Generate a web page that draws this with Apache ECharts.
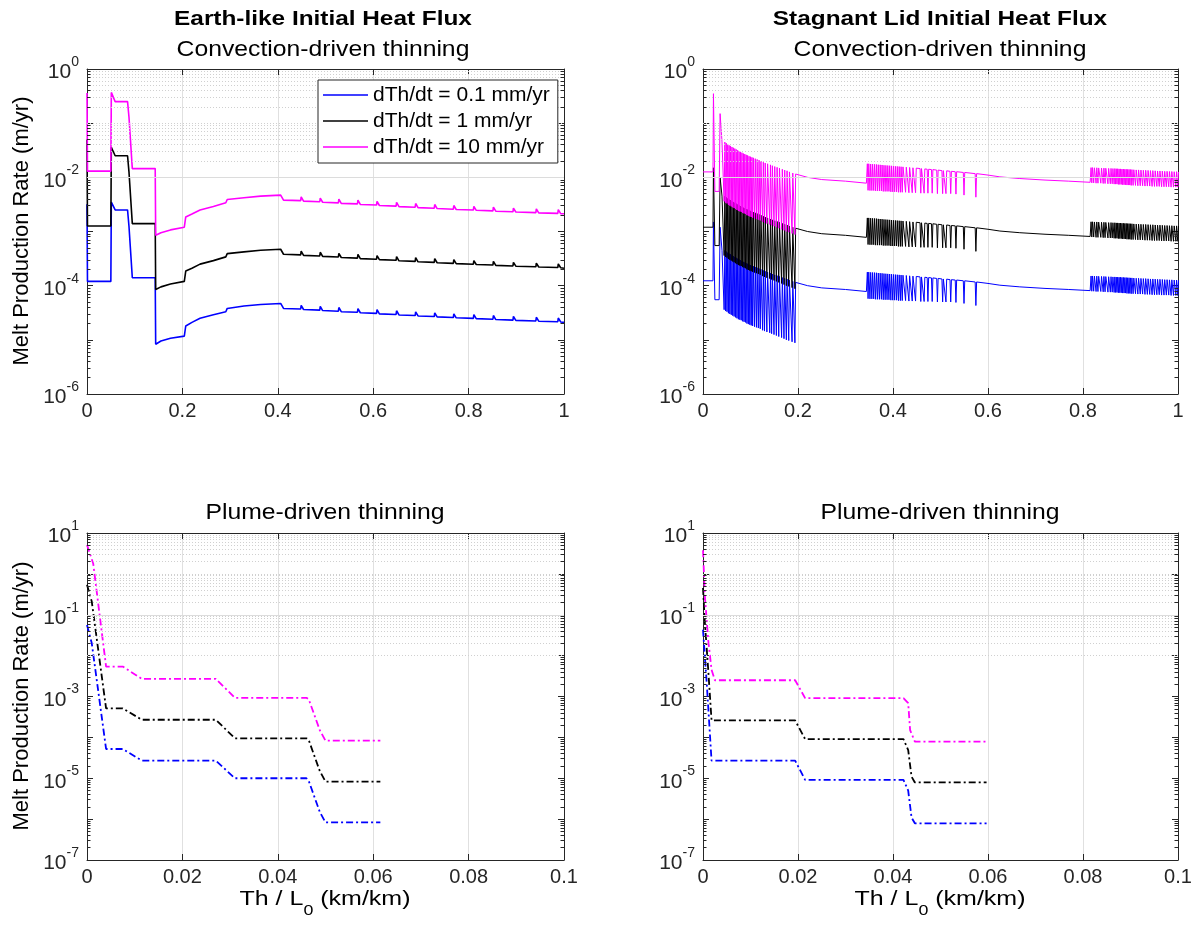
<!DOCTYPE html>
<html>
<head>
<meta charset="utf-8">
<script src="https://cdn.jsdelivr.net/npm/echarts@6/dist/echarts.min.js"></script>
<style>
  html, body { margin: 0; padding: 0; background: #fff; }
  #chart { width: 1199px; height: 931px; }
</style>
</head>
<body>
<div id="chart"></div>
<script>
// ---------- data ----------
const seriesNames = ['dTh/dt = 0.1 mm/yr', 'dTh/dt = 1 mm/yr', 'dTh/dt = 10 mm/yr'];
const seriesColors = ['#0000ff', '#000000', '#ff00ff'];

const topXTicks = [0, 0.2, 0.4, 0.6, 0.8, 1];
const bottomXTicks = [0, 0.02, 0.04, 0.06, 0.08, 0.1];
const topDecades = [-6, -5, -4, -3, -2, -1, 0];
const bottomDecades = [-7, -6, -5, -4, -3, -2, -1, 0, 1];
const topYLabelExp = [-6, -4, -2, 0];
const bottomYLabelExp = [-7, -5, -3, -1, 1];
const minorSteps = [2, 3, 4, 5, 6, 7, 8, 9];

// top-left: Earth-like, convection-driven
const tlMagHead = [[0, 0.36], [0.001, 1.3e-2], [0.05, 1.3e-2], [0.051, 0.37], [0.055, 0.36], [0.059, 0.25], [0.085, 0.25], [0.088, 0.13], [0.092, 0.13], [0.095, 1.45e-2], [0.143, 1.45e-2], [0.144, 8.5e-4], [0.155, 9.5e-4], [0.175, 1.07e-3], [0.204, 1.2e-3], [0.207, 1.86e-3], [0.22, 2.1e-3], [0.237, 2.5e-3], [0.265, 2.9e-3], [0.291, 3.4e-3], [0.294, 3.9e-3], [0.329, 4.2e-3], [0.364, 4.5e-3]];
const tlBlkHead = [[0, 5.0e-2], [0.001, 1.26e-3], [0.05, 1.26e-3], [0.051, 3.6e-2], [0.055, 3.5e-2], [0.059, 2.5e-2], [0.085, 2.5e-2], [0.088, 1.26e-2], [0.092, 1.26e-2], [0.095, 1.4e-3], [0.143, 1.4e-3], [0.144, 8.5e-5], [0.155, 9.5e-5], [0.175, 1.07e-4], [0.204, 1.2e-4], [0.207, 1.86e-4], [0.22, 2.1e-4], [0.237, 2.5e-4], [0.265, 2.9e-4], [0.291, 3.4e-4], [0.294, 3.9e-4], [0.329, 4.2e-4], [0.364, 4.5e-4]];
const tlBluHead = [[0, 3.2e-3], [0.001, 1.2e-4], [0.05, 1.2e-4], [0.051, 3.5e-3], [0.055, 3.4e-3], [0.059, 2.5e-3], [0.085, 2.5e-3], [0.088, 1.25e-3], [0.092, 1.25e-3], [0.095, 1.4e-4], [0.143, 1.4e-4], [0.144, 8.3e-6], [0.155, 9.5e-6], [0.175, 1.07e-5], [0.204, 1.17e-5], [0.207, 1.8e-5], [0.22, 2.1e-5], [0.237, 2.5e-5], [0.265, 2.9e-5], [0.291, 3.3e-5], [0.294, 3.8e-5], [0.329, 4.2e-5], [0.364, 4.5e-5]];
const tlToothX = [0.407, 0.449, 0.489, 0.528, 0.568, 0.608, 0.649, 0.689, 0.729, 0.769, 0.811, 0.852, 0.894, 0.942, 0.988];
const tlMagPre = [4.7e-3, 3.71e-3, 3.54e-3, 3.38e-3, 3.23e-3, 3.08e-3, 2.94e-3, 2.81e-3, 2.69e-3, 2.58e-3, 2.49e-3, 2.40e-3, 2.31e-3, 2.23e-3, 2.16e-3];
const tlMagPeak = [5.1e-3, 4.34e-3, 4.14e-3, 3.95e-3, 3.78e-3, 3.60e-3, 3.44e-3, 3.29e-3, 3.15e-3, 3.02e-3, 2.91e-3, 2.81e-3, 2.70e-3, 2.61e-3, 2.53e-3];
const tlMagAfter = [3.80e-3, 3.63e-3, 3.47e-3, 3.31e-3, 3.16e-3, 3.02e-3, 2.88e-3, 2.76e-3, 2.65e-3, 2.55e-3, 2.46e-3, 2.37e-3, 2.29e-3, 2.21e-3, 2.14e-3];
const tlBlkPre = [4.7e-4, 3.71e-4, 3.54e-4, 3.38e-4, 3.23e-4, 3.08e-4, 2.94e-4, 2.81e-4, 2.69e-4, 2.58e-4, 2.49e-4, 2.40e-4, 2.31e-4, 2.23e-4, 2.16e-4];
const tlBlkPeak = [5.1e-4, 4.34e-4, 4.14e-4, 3.95e-4, 3.78e-4, 3.60e-4, 3.44e-4, 3.29e-4, 3.15e-4, 3.02e-4, 2.91e-4, 2.81e-4, 2.70e-4, 2.61e-4, 2.53e-4];
const tlBlkAfter = [3.80e-4, 3.63e-4, 3.47e-4, 3.31e-4, 3.16e-4, 3.02e-4, 2.88e-4, 2.76e-4, 2.65e-4, 2.55e-4, 2.46e-4, 2.37e-4, 2.29e-4, 2.21e-4, 2.14e-4];
const tlBluPre = [4.7e-5, 3.71e-5, 3.54e-5, 3.38e-5, 3.23e-5, 3.08e-5, 2.94e-5, 2.81e-5, 2.69e-5, 2.58e-5, 2.49e-5, 2.40e-5, 2.31e-5, 2.23e-5, 2.16e-5];
const tlBluPeak = [5.1e-5, 4.34e-5, 4.14e-5, 3.95e-5, 3.78e-5, 3.60e-5, 3.44e-5, 3.29e-5, 3.15e-5, 3.02e-5, 2.91e-5, 2.81e-5, 2.70e-5, 2.61e-5, 2.53e-5];
const tlBluAfter = [3.80e-5, 3.63e-5, 3.47e-5, 3.31e-5, 3.16e-5, 3.02e-5, 2.88e-5, 2.76e-5, 2.65e-5, 2.55e-5, 2.46e-5, 2.37e-5, 2.29e-5, 2.21e-5, 2.14e-5];
const tlEnd = [2.1e-5, 2.1e-4, 2.12e-3];

// top-right: stagnant lid, convection-driven
const trMagStart = [[0, 1.26e-2], [0.021, 1.26e-2], [0.022, 0.35], [0.025, 5.5e-3], [0.034, 5.5e-3], [0.036, 0.15], [0.04, 4.5e-2]];
const trBlkStart = [[0, 1.2e-3], [0.021, 1.2e-3], [0.022, 1.5e-2], [0.025, 5.5e-4], [0.034, 5.5e-4], [0.036, 1.0e-2], [0.04, 4.5e-3]];
const trBluStart = [[0, 1.23e-4], [0.021, 1.23e-4], [0.022, 1.5e-3], [0.025, 5.5e-5], [0.034, 5.5e-5], [0.036, 1.2e-3], [0.04, 4.5e-4]];

const trX1 = [0.043, 0.046, 0.049, 0.052, 0.055, 0.058, 0.061, 0.064, 0.067, 0.070, 0.073, 0.076, 0.079, 0.082, 0.085, 0.088, 0.091, 0.094, 0.097, 0.100, 0.103, 0.107, 0.111, 0.115, 0.119, 0.124, 0.128, 0.133, 0.139, 0.143, 0.148, 0.153, 0.158, 0.164, 0.169, 0.174, 0.179, 0.186, 0.192];
const trMagTop1 = [4.47e-2, 4.27e-2, 4.07e-2, 3.89e-2, 3.80e-2, 3.63e-2, 3.51e-2, 3.39e-2, 3.27e-2, 3.16e-2, 3.05e-2, 2.95e-2, 2.85e-2, 2.75e-2, 2.69e-2, 2.60e-2, 2.54e-2, 2.45e-2, 2.40e-2, 2.34e-2, 2.29e-2, 2.21e-2, 2.14e-2, 2.07e-2, 2.00e-2, 1.91e-2, 1.84e-2, 1.78e-2, 1.70e-2, 1.64e-2, 1.58e-2, 1.53e-2, 1.48e-2, 1.41e-2, 1.36e-2, 1.32e-2, 1.26e-2, 1.20e-2, 1.15e-2];
const trMagBot1 = [3.6e-3, 3.4e-3, 3.3e-3, 3.1e-3, 3.0e-3, 2.9e-3, 2.8e-3, 2.7e-3, 2.6e-3, 2.5e-3, 2.4e-3, 2.35e-3, 2.3e-3, 2.2e-3, 2.15e-3, 2.1e-3, 2.0e-3, 1.95e-3, 1.9e-3, 1.85e-3, 1.8e-3, 1.75e-3, 1.7e-3, 1.65e-3, 1.6e-3, 1.5e-3, 1.45e-3, 1.4e-3, 1.35e-3, 1.3e-3, 1.25e-3, 1.2e-3, 1.15e-3, 1.1e-3, 1.05e-3, 1.0e-3, 9.7e-4, 9.2e-4, 8.8e-4];
const trBlkTop1 = [4.47e-3, 4.27e-3, 4.07e-3, 3.89e-3, 3.80e-3, 3.63e-3, 3.51e-3, 3.39e-3, 3.27e-3, 3.16e-3, 3.05e-3, 2.95e-3, 2.85e-3, 2.75e-3, 2.69e-3, 2.60e-3, 2.54e-3, 2.45e-3, 2.40e-3, 2.34e-3, 2.29e-3, 2.21e-3, 2.14e-3, 2.07e-3, 2.00e-3, 1.91e-3, 1.84e-3, 1.78e-3, 1.70e-3, 1.64e-3, 1.58e-3, 1.53e-3, 1.48e-3, 1.41e-3, 1.36e-3, 1.32e-3, 1.26e-3, 1.20e-3, 1.15e-3];
const trBlkBot1 = [3.6e-4, 3.4e-4, 3.3e-4, 3.1e-4, 3.0e-4, 2.9e-4, 2.8e-4, 2.7e-4, 2.6e-4, 2.5e-4, 2.4e-4, 2.35e-4, 2.3e-4, 2.2e-4, 2.15e-4, 2.1e-4, 2.0e-4, 1.95e-4, 1.9e-4, 1.85e-4, 1.8e-4, 1.75e-4, 1.7e-4, 1.65e-4, 1.6e-4, 1.5e-4, 1.45e-4, 1.4e-4, 1.35e-4, 1.3e-4, 1.25e-4, 1.2e-4, 1.15e-4, 1.1e-4, 1.05e-4, 1.0e-4, 9.7e-5, 9.2e-5, 8.8e-5];
const trBluTop1 = [4.47e-4, 4.27e-4, 4.07e-4, 3.89e-4, 3.80e-4, 3.63e-4, 3.51e-4, 3.39e-4, 3.27e-4, 3.16e-4, 3.05e-4, 2.95e-4, 2.85e-4, 2.75e-4, 2.69e-4, 2.60e-4, 2.54e-4, 2.45e-4, 2.40e-4, 2.34e-4, 2.29e-4, 2.21e-4, 2.14e-4, 2.07e-4, 2.00e-4, 1.91e-4, 1.84e-4, 1.78e-4, 1.70e-4, 1.64e-4, 1.58e-4, 1.53e-4, 1.48e-4, 1.41e-4, 1.36e-4, 1.32e-4, 1.26e-4, 1.20e-4, 1.15e-4];
const trBluBot1 = [3.6e-5, 3.4e-5, 3.3e-5, 3.1e-5, 3.0e-5, 2.9e-5, 2.8e-5, 2.7e-5, 2.6e-5, 2.5e-5, 2.4e-5, 2.35e-5, 2.3e-5, 2.2e-5, 2.15e-5, 2.1e-5, 2.0e-5, 1.95e-5, 1.9e-5, 1.85e-5, 1.8e-5, 1.75e-5, 1.7e-5, 1.65e-5, 1.6e-5, 1.5e-5, 1.45e-5, 1.4e-5, 1.35e-5, 1.3e-5, 1.25e-5, 1.2e-5, 1.15e-5, 1.1e-5, 1.05e-5, 1.0e-5, 9.7e-6, 9.2e-6, 8.8e-6];

const trMagMid1 = [[0.195, 1.1e-2], [0.22, 1.0e-2], [0.25, 9.1e-3], [0.3, 8.5e-3], [0.344, 7.8e-3]];
const trBlkMid1 = [[0.195, 1.1e-3], [0.22, 1.0e-3], [0.25, 9.1e-4], [0.3, 8.5e-4], [0.344, 7.8e-4]];
const trBluMid1 = [[0.195, 1.1e-4], [0.22, 1.0e-4], [0.25, 9.1e-5], [0.3, 8.5e-5], [0.344, 7.8e-5]];

const trX2 = [0.346, 0.350, 0.354, 0.358, 0.362, 0.366, 0.370, 0.374, 0.378, 0.382, 0.386, 0.390, 0.394, 0.398, 0.402, 0.406, 0.410, 0.414, 0.418, 0.425, 0.432, 0.439, 0.446, 0.457, 0.464, 0.472, 0.481, 0.492, 0.503, 0.510, 0.520, 0.531, 0.548, 0.573];
const trMagTop2 = [1.78e-2, 1.76e-2, 1.75e-2, 1.74e-2, 1.73e-2, 1.71e-2, 1.70e-2, 1.69e-2, 1.67e-2, 1.66e-2, 1.65e-2, 1.64e-2, 1.63e-2, 1.61e-2, 1.60e-2, 1.59e-2, 1.58e-2, 1.57e-2, 1.56e-2, 1.54e-2, 1.52e-2, 1.50e-2, 1.48e-2, 1.45e-2, 1.43e-2, 1.41e-2, 1.39e-2, 1.36e-2, 1.33e-2, 1.32e-2, 1.29e-2, 1.27e-2, 1.23e-2, 1.17e-2];
const trMagBot2 = [5.75e-3, 5.7e-3, 5.7e-3, 5.7e-3, 5.6e-3, 5.6e-3, 5.6e-3, 5.6e-3, 5.5e-3, 5.5e-3, 5.5e-3, 5.5e-3, 5.4e-3, 5.4e-3, 5.4e-3, 5.4e-3, 5.3e-3, 5.3e-3, 5.3e-3, 5.3e-3, 5.2e-3, 5.2e-3, 5.2e-3, 5.1e-3, 5.1e-3, 5.1e-3, 5.1e-3, 5.0e-3, 5.0e-3, 5.0e-3, 5.0e-3, 4.9e-3, 4.7e-3, 4.3e-3];
const trBlkTop2 = [1.78e-3, 1.76e-3, 1.75e-3, 1.74e-3, 1.73e-3, 1.71e-3, 1.70e-3, 1.69e-3, 1.67e-3, 1.66e-3, 1.65e-3, 1.64e-3, 1.63e-3, 1.61e-3, 1.60e-3, 1.59e-3, 1.58e-3, 1.57e-3, 1.56e-3, 1.54e-3, 1.52e-3, 1.50e-3, 1.48e-3, 1.45e-3, 1.43e-3, 1.41e-3, 1.39e-3, 1.36e-3, 1.33e-3, 1.32e-3, 1.29e-3, 1.27e-3, 1.23e-3, 1.17e-3];
const trBlkBot2 = [5.75e-4, 5.7e-4, 5.7e-4, 5.7e-4, 5.6e-4, 5.6e-4, 5.6e-4, 5.6e-4, 5.5e-4, 5.5e-4, 5.5e-4, 5.5e-4, 5.4e-4, 5.4e-4, 5.4e-4, 5.4e-4, 5.3e-4, 5.3e-4, 5.3e-4, 5.3e-4, 5.2e-4, 5.2e-4, 5.2e-4, 5.1e-4, 5.1e-4, 5.1e-4, 5.1e-4, 5.0e-4, 5.0e-4, 5.0e-4, 5.0e-4, 4.9e-4, 4.7e-4, 4.3e-4];
const trBluTop2 = [1.78e-4, 1.76e-4, 1.75e-4, 1.74e-4, 1.73e-4, 1.71e-4, 1.70e-4, 1.69e-4, 1.67e-4, 1.66e-4, 1.65e-4, 1.64e-4, 1.63e-4, 1.61e-4, 1.60e-4, 1.59e-4, 1.58e-4, 1.57e-4, 1.56e-4, 1.54e-4, 1.52e-4, 1.50e-4, 1.48e-4, 1.45e-4, 1.43e-4, 1.41e-4, 1.39e-4, 1.36e-4, 1.33e-4, 1.32e-4, 1.29e-4, 1.27e-4, 1.23e-4, 1.17e-4];
const trBluBot2 = [5.75e-5, 5.7e-5, 5.7e-5, 5.7e-5, 5.6e-5, 5.6e-5, 5.6e-5, 5.6e-5, 5.5e-5, 5.5e-5, 5.5e-5, 5.5e-5, 5.4e-5, 5.4e-5, 5.4e-5, 5.4e-5, 5.3e-5, 5.3e-5, 5.3e-5, 5.3e-5, 5.2e-5, 5.2e-5, 5.2e-5, 5.1e-5, 5.1e-5, 5.1e-5, 5.1e-5, 5.0e-5, 5.0e-5, 5.0e-5, 5.0e-5, 4.9e-5, 4.7e-5, 4.3e-5];

const trMagMid2 = [[0.575, 1.17e-2], [0.6, 1.1e-2], [0.625, 1.02e-2], [0.667, 9.5e-3], [0.72, 8.9e-3], [0.77, 8.5e-3], [0.815, 8.1e-3]];
const trBlkMid2 = [[0.575, 1.17e-3], [0.6, 1.1e-3], [0.625, 1.02e-3], [0.667, 9.5e-4], [0.72, 8.9e-4], [0.77, 8.5e-4], [0.815, 8.1e-4]];
const trBluMid2 = [[0.575, 1.17e-4], [0.6, 1.1e-4], [0.625, 1.02e-4], [0.667, 9.5e-5], [0.72, 8.9e-5], [0.77, 8.5e-5], [0.815, 8.1e-5]];

const trX3 = [0.817, 0.821, 0.826, 0.830, 0.836, 0.841, 0.845, 0.851, 0.856, 0.860, 0.864, 0.867, 0.870, 0.873, 0.876, 0.879, 0.882, 0.885, 0.888, 0.891, 0.894, 0.897, 0.900, 0.904, 0.909, 0.914, 0.919, 0.924, 0.929, 0.934, 0.939, 0.944, 0.949, 0.954, 0.959, 0.964, 0.969, 0.974, 0.979, 0.984, 0.989, 0.994, 0.998];
const trMagTop3 = [1.51e-2, 1.50e-2, 1.50e-2, 1.49e-2, 1.48e-2, 1.48e-2, 1.47e-2, 1.46e-2, 1.46e-2, 1.45e-2, 1.45e-2, 1.44e-2, 1.44e-2, 1.43e-2, 1.43e-2, 1.42e-2, 1.42e-2, 1.41e-2, 1.41e-2, 1.40e-2, 1.40e-2, 1.39e-2, 1.39e-2, 1.38e-2, 1.37e-2, 1.37e-2, 1.36e-2, 1.35e-2, 1.35e-2, 1.34e-2, 1.33e-2, 1.33e-2, 1.32e-2, 1.31e-2, 1.31e-2, 1.30e-2, 1.29e-2, 1.29e-2, 1.28e-2, 1.28e-2, 1.27e-2, 1.27e-2, 1.26e-2];
const trMagBot3 = [7.9e-3, 7.9e-3, 7.8e-3, 7.8e-3, 7.8e-3, 7.7e-3, 7.7e-3, 7.6e-3, 7.6e-3, 7.6e-3, 7.5e-3, 7.5e-3, 7.5e-3, 7.4e-3, 7.4e-3, 7.4e-3, 7.3e-3, 7.3e-3, 7.3e-3, 7.2e-3, 7.2e-3, 7.2e-3, 7.1e-3, 7.1e-3, 7.1e-3, 7.0e-3, 7.0e-3, 7.0e-3, 6.9e-3, 6.9e-3, 6.9e-3, 6.8e-3, 6.8e-3, 6.8e-3, 6.8e-3, 6.7e-3, 6.7e-3, 6.7e-3, 6.7e-3, 6.6e-3, 6.6e-3, 6.6e-3, 6.6e-3];
const trBlkTop3 = [1.51e-3, 1.50e-3, 1.50e-3, 1.49e-3, 1.48e-3, 1.48e-3, 1.47e-3, 1.46e-3, 1.46e-3, 1.45e-3, 1.45e-3, 1.44e-3, 1.44e-3, 1.43e-3, 1.43e-3, 1.42e-3, 1.42e-3, 1.41e-3, 1.41e-3, 1.40e-3, 1.40e-3, 1.39e-3, 1.39e-3, 1.38e-3, 1.37e-3, 1.37e-3, 1.36e-3, 1.35e-3, 1.35e-3, 1.34e-3, 1.33e-3, 1.33e-3, 1.32e-3, 1.31e-3, 1.31e-3, 1.30e-3, 1.29e-3, 1.29e-3, 1.28e-3, 1.28e-3, 1.27e-3, 1.27e-3, 1.26e-3];
const trBlkBot3 = [7.9e-4, 7.9e-4, 7.8e-4, 7.8e-4, 7.8e-4, 7.7e-4, 7.7e-4, 7.6e-4, 7.6e-4, 7.6e-4, 7.5e-4, 7.5e-4, 7.5e-4, 7.4e-4, 7.4e-4, 7.4e-4, 7.3e-4, 7.3e-4, 7.3e-4, 7.2e-4, 7.2e-4, 7.2e-4, 7.1e-4, 7.1e-4, 7.1e-4, 7.0e-4, 7.0e-4, 7.0e-4, 6.9e-4, 6.9e-4, 6.9e-4, 6.8e-4, 6.8e-4, 6.8e-4, 6.8e-4, 6.7e-4, 6.7e-4, 6.7e-4, 6.7e-4, 6.6e-4, 6.6e-4, 6.6e-4, 6.6e-4];
const trBluTop3 = [1.51e-4, 1.50e-4, 1.50e-4, 1.49e-4, 1.48e-4, 1.48e-4, 1.47e-4, 1.46e-4, 1.46e-4, 1.45e-4, 1.45e-4, 1.44e-4, 1.44e-4, 1.43e-4, 1.43e-4, 1.42e-4, 1.42e-4, 1.41e-4, 1.41e-4, 1.40e-4, 1.40e-4, 1.39e-4, 1.39e-4, 1.38e-4, 1.37e-4, 1.37e-4, 1.36e-4, 1.35e-4, 1.35e-4, 1.34e-4, 1.33e-4, 1.33e-4, 1.32e-4, 1.31e-4, 1.31e-4, 1.30e-4, 1.29e-4, 1.29e-4, 1.28e-4, 1.28e-4, 1.27e-4, 1.27e-4, 1.26e-4];
const trBluBot3 = [7.9e-5, 7.9e-5, 7.8e-5, 7.8e-5, 7.8e-5, 7.7e-5, 7.7e-5, 7.6e-5, 7.6e-5, 7.6e-5, 7.5e-5, 7.5e-5, 7.5e-5, 7.4e-5, 7.4e-5, 7.4e-5, 7.3e-5, 7.3e-5, 7.3e-5, 7.2e-5, 7.2e-5, 7.2e-5, 7.1e-5, 7.1e-5, 7.1e-5, 7.0e-5, 7.0e-5, 7.0e-5, 6.9e-5, 6.9e-5, 6.9e-5, 6.8e-5, 6.8e-5, 6.8e-5, 6.8e-5, 6.7e-5, 6.7e-5, 6.7e-5, 6.7e-5, 6.6e-5, 6.6e-5, 6.6e-5, 6.6e-5];

// bottom-left: Earth-like, plume-driven
const blBlu = [[0, 5.6e-2], [0.001, 2.0e-2], [0.004, 5.2e-5], [0.0075, 5.2e-5], [0.0115, 2.7e-5], [0.027, 2.7e-5], [0.031, 1.0e-5], [0.046, 1.0e-5], [0.0465, 8.5e-6], [0.0488, 1.5e-6], [0.05, 8.3e-7], [0.0615, 8.3e-7]];
const blBlk = [[0, 0.54], [0.001, 0.21], [0.004, 5.1e-4], [0.0075, 5.1e-4], [0.0115, 2.7e-4], [0.027, 2.7e-4], [0.031, 9.5e-5], [0.046, 9.5e-5], [0.0465, 8.5e-5], [0.0488, 1.5e-5], [0.05, 8.3e-6], [0.0615, 8.3e-6]];
const blMag = [[0, 5.1], [0.0013, 1.8], [0.004, 5.4e-3], [0.0075, 5.4e-3], [0.0115, 2.7e-3], [0.027, 2.7e-3], [0.031, 9.3e-4], [0.046, 9.3e-4], [0.0465, 8.5e-4], [0.0488, 1.5e-4], [0.05, 8.3e-5], [0.0615, 8.3e-5]];

// bottom-right: stagnant lid, plume-driven
const brBlu = [[0, 4.3e-2], [0.0008, 2.0e-3], [0.0018, 2.7e-5], [0.0194, 2.7e-5], [0.0215, 9.1e-6], [0.0422, 9.1e-6], [0.0432, 5.0e-6], [0.0439, 1.1e-6], [0.0446, 7.9e-7], [0.0597, 7.9e-7]];
const brBlk = [[0, 0.45], [0.0004, 6.3e-2], [0.0011, 4.5e-3], [0.0018, 2.6e-4], [0.0194, 2.6e-4], [0.0215, 9.1e-5], [0.0422, 9.1e-5], [0.0432, 4.9e-5], [0.0439, 1.1e-5], [0.0446, 7.9e-6], [0.0597, 7.9e-6]];
const brMag = [[0, 3.8], [0.0004, 0.28], [0.0011, 2.4e-2], [0.0018, 4.5e-3], [0.0025, 2.5e-3], [0.0194, 2.5e-3], [0.0215, 9.1e-4], [0.0422, 9.1e-4], [0.0432, 6.9e-4], [0.0436, 1.5e-4], [0.0446, 7.9e-5], [0.0597, 7.9e-5]];

// ---------- helpers ----------
function teeth(head, xs, pre, peak, after, endVal) {
  const out = head.slice();
  xs.forEach((x, i) => out.push([x - 0.001, pre[i]], [x, peak[i]], [x + 0.005, after[i]]));
  out.push([1, endVal]);
  return out;
}
function spikes(xs, tops, bots) {
  const out = [];
  xs.forEach((x, i) => out.push([x, tops[i]], [x + 0.0015, bots[i]], [x + 0.003, tops[i]]));
  return out;
}

const tlData = [
  teeth(tlBluHead, tlToothX, tlBluPre, tlBluPeak, tlBluAfter, tlEnd[0]),
  teeth(tlBlkHead, tlToothX, tlBlkPre, tlBlkPeak, tlBlkAfter, tlEnd[1]),
  teeth(tlMagHead, tlToothX, tlMagPre, tlMagPeak, tlMagAfter, tlEnd[2])
];
const trData = [
  [].concat(trBluStart, spikes(trX1, trBluTop1, trBluBot1), trBluMid1, spikes(trX2, trBluTop2, trBluBot2), trBluMid2, spikes(trX3, trBluTop3, trBluBot3)),
  [].concat(trBlkStart, spikes(trX1, trBlkTop1, trBlkBot1), trBlkMid1, spikes(trX2, trBlkTop2, trBlkBot2), trBlkMid2, spikes(trX3, trBlkTop3, trBlkBot3)),
  [].concat(trMagStart, spikes(trX1, trMagTop1, trMagBot1), trMagMid1, spikes(trX2, trMagTop2, trMagBot2), trMagMid2, spikes(trX3, trMagTop3, trMagBot3))
];
const blData = [blBlu, blBlk, blMag];
const brData = [brBlu, brBlk, brMag];

// ---------- layout ----------
const FONT = '"Liberation Sans", Helvetica, Arial, sans-serif';
const INK = '#262626';
const panels = [
  { left: 87, top: 69, width: 477, height: 325, xTicks: topXTicks, decades: topDecades, labelExp: topYLabelExp, data: tlData, lineW: 1.6, dash: 'solid' },
  { left: 703, top: 69, width: 475, height: 325, xTicks: topXTicks, decades: topDecades, labelExp: topYLabelExp, data: trData, lineW: 1, dash: 'solid' },
  { left: 87, top: 533, width: 477, height: 327, xTicks: bottomXTicks, decades: bottomDecades, labelExp: bottomYLabelExp, data: blData, lineW: 1.8, dash: [7, 3, 2, 3] },
  { left: 703, top: 533, width: 475, height: 327, xTicks: bottomXTicks, decades: bottomDecades, labelExp: bottomYLabelExp, data: brData, lineW: 1.8, dash: [7, 3, 2, 3] }
];

const majorGrid = { color: '#dcdcdc', width: 1, type: 'solid' };
const minorGrid = { color: '#d0d0d0', width: 1, type: [1, 2] };
const minorTick = { color: INK, width: 1, type: 'solid' };

function gridMarks(p) {
  const xs = p.xTicks;
  const x0 = xs[0], x1 = xs[xs.length - 1];
  const tickLen = (x1 - x0) * 3.5 / p.width;
  const items = [];
  const d = p.decades;
  for (let j = 0; j < d.length - 1; j++) {
    const e = d[j];
    if (j > 0) items.push({ yAxis: Math.pow(10, e), lineStyle: p.labelExp.includes(e) ? majorGrid : minorGrid });
    minorSteps.forEach(k => {
      const v = k * Math.pow(10, e);
      items.push({ yAxis: v, lineStyle: minorGrid });
      items.push([{ coord: [x0, v], lineStyle: minorTick }, { coord: [x0 + tickLen, v] }]);
      items.push([{ coord: [x1 - tickLen, v], lineStyle: minorTick }, { coord: [x1, v] }]);
    });
  }
  return items;
}

const grids = [], xAxes = [], yAxes = [], series = [];
panels.forEach((p, i) => {
  const xs = p.xTicks;
  grids.push({ left: p.left, top: p.top, width: p.width, height: p.height, containLabel: false });
  const expMin = p.decades[0], expMax = p.decades[p.decades.length - 1];
  xAxes.push({
    type: 'value', gridIndex: i, min: xs[0], max: xs[xs.length - 1], interval: xs[1] - xs[0],
    axisLine: { show: true, onZero: false, lineStyle: { color: INK } },
    axisTick: { inside: true, length: 6, lineStyle: { color: INK } },
    axisLabel: { fontFamily: FONT, fontSize: 20, color: INK, margin: 7 },
    splitLine: { show: true, lineStyle: { color: '#e0e0e0' } }
  });
  yAxes.push({
    type: 'log', logBase: 10, gridIndex: i, min: Math.pow(10, expMin), max: Math.pow(10, expMax),
    splitNumber: expMax - expMin,
    axisLine: { show: true, onZero: false, lineStyle: { color: INK } },
    axisTick: { inside: true, length: 6, lineStyle: { color: INK } },
    splitLine: { show: false },
    axisLabel: {
      margin: 8, color: INK, showMinLabel: true, showMaxLabel: true,
      formatter: v => {
        const e = Math.round(Math.log10(v));
        return p.labelExp.includes(e) ? '{b|10}{s|' + e + '}' : '';
      },
      rich: {
        b: { fontFamily: FONT, fontSize: 21, color: INK, lineHeight: 28, verticalAlign: 'bottom' },
        s: { fontFamily: FONT, fontSize: 14, color: INK, lineHeight: 12, verticalAlign: 'top' }
      }
    }
  });
  series.push({
    type: 'line', name: 'grid' + i, xAxisIndex: i, yAxisIndex: i, data: [], silent: true, z: 2,
    markLine: { silent: true, symbol: ['none', 'none'], label: { show: false }, animation: false, emphasis: { disabled: true }, data: gridMarks(p) }
  });
  p.data.forEach((d, k) => {
    series.push({
      type: 'line', name: seriesNames[k], xAxisIndex: i, yAxisIndex: i, data: d,
      symbol: 'none', showSymbol: false, z: 3, color: seriesColors[k],
      lineStyle: { color: seriesColors[k], width: p.lineW, type: p.dash },
      emphasis: { disabled: true }
    });
  });
});
// mirrored top / right axes (box with inner ticks)
panels.forEach((p, i) => {
  const xs = p.xTicks;
  const expMin = p.decades[0], expMax = p.decades[p.decades.length - 1];
  xAxes.push({
    type: 'value', gridIndex: i, position: 'top', min: xs[0], max: xs[xs.length - 1], interval: xs[1] - xs[0],
    axisLine: { show: true, onZero: false, lineStyle: { color: INK } },
    axisTick: { inside: true, length: 6, lineStyle: { color: INK } },
    axisLabel: { show: false }, splitLine: { show: false }
  });
  yAxes.push({
    type: 'log', logBase: 10, gridIndex: i, position: 'right', min: Math.pow(10, expMin), max: Math.pow(10, expMax),
    splitNumber: expMax - expMin,
    axisLine: { show: true, onZero: false, lineStyle: { color: INK } },
    axisTick: { inside: true, length: 6, lineStyle: { color: INK } },
    axisLabel: { show: false }, splitLine: { show: false }
  });
});

function txt(x, y, text, size, weight, sx, rot) {
  return {
    type: 'text', x, y, rotation: rot || 0, scaleX: sx || 1, silent: true, z: 10,
    style: { text, fill: '#000', align: 'center', verticalAlign: 'middle', font: (weight || 'normal') + ' ' + size + 'px ' + FONT }
  };
}
function xTitle(x, y) {
  return {
    type: 'text', x, y, scaleX: 1.19, silent: true, z: 10,
    style: {
      text: '{n|Th / L}{sub|0}{n| (km/km)}', align: 'center', verticalAlign: 'middle',
      rich: {
        n: { fontFamily: FONT, fontSize: 21, fill: '#000', lineHeight: 26, verticalAlign: 'top' },
        sub: { fontFamily: FONT, fontSize: 15, fill: '#000', lineHeight: 32, verticalAlign: 'top', padding: [14, 0, 0, 0] }
      }
    }
  };
}

const option = {
  animation: false,
  backgroundColor: '#fff',
  legend: {
    data: seriesNames, orient: 'vertical', left: 318, top: 80,
    icon: 'rect', itemWidth: 45, itemHeight: 1.6, itemGap: 4,
    padding: [4, 8, 5, 5], backgroundColor: '#fff', borderColor: INK, borderWidth: 1, borderRadius: 0,
    textStyle: { fontFamily: FONT, fontSize: 21, lineHeight: 22, color: '#000' },
    selectedMode: false, z: 6
  },
  grid: grids,
  xAxis: xAxes,
  yAxis: yAxes,
  series,
  graphic: [
    txt(323, 19, 'Earth-like Initial Heat Flux', 21, 'bold', 1.16),
    txt(940, 19, 'Stagnant Lid Initial Heat Flux', 21, 'bold', 1.16),
    txt(323, 50, 'Convection-driven thinning', 21.5, 'normal', 1.15),
    txt(940, 50, 'Convection-driven thinning', 21.5, 'normal', 1.15),
    txt(325, 513, 'Plume-driven thinning', 21.5, 'normal', 1.15),
    txt(940, 513, 'Plume-driven thinning', 21.5, 'normal', 1.15),
    txt(22, 231, 'Melt Production Rate (m/yr)', 22, 'normal', 1, Math.PI / 2),
    txt(22, 696, 'Melt Production Rate (m/yr)', 22, 'normal', 1, Math.PI / 2),
    xTitle(325, 905),
    xTitle(940, 905)
  ]
};

const chart = echarts.init(document.getElementById('chart'));
chart.setOption(option);
window.addEventListener('resize', () => chart.resize());
</script>
</body>
</html>
